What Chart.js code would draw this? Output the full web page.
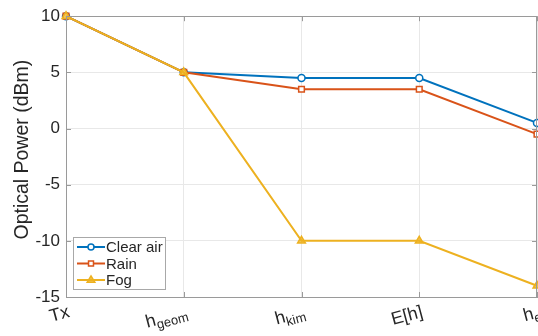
<!DOCTYPE html>
<html>
<head>
<meta charset="utf-8">
<script src="https://cdn.jsdelivr.net/npm/chart.js@4.4.1/dist/chart.umd.min.js"></script>
<style>
  html, body { margin: 0; padding: 0; background: #fff; overflow: hidden; }
  #wrap { width: 538px; height: 336px; overflow: hidden; }
</style>
</head>
<body>
<div id="wrap"><canvas id="myChart" width="600" height="336"></canvas></div>
<script>
// data
const categories = ['Tx', 'h_geom', 'h_kim', 'E[h]', 'h_e'];
const seriesNames = ['Clear air', 'Rain', 'Fog'];
const clearAir = [10, 5, 4.5, 4.5, 0.5];
const rain = [10, 5, 3.5, 3.5, -0.5];
const fog = [10, 5, -10, -10, -14];
const yTicks = [-15, -10, -5, 0, 5, 10];

const FONT = '"Liberation Sans", Arial, Helvetica, sans-serif';
const TEXT = '#262626';
const AXIS = '#9a9a9a';
const GRID = '#e8e8e8';

const colors = ['#0072BD', '#D95319', '#EDB120'];
const styles = ['circle', 'rect', 'triangle'];
const fills = ['#ffffff', '#ffffff', 'rgba(237,177,32,0.75)'];
const radii = [3.5, 4, 4.5];

function drawMarker(ctx, style, x, y, r, stroke, fill) {
    ctx.save();
    ctx.strokeStyle = stroke;
    ctx.fillStyle = fill;
    ctx.lineWidth = 1.5;
    ctx.beginPath();
    if (style === 'circle') {
        ctx.arc(x, y, r, 0, Math.PI * 2);
    } else if (style === 'rect') {
        const s = r * Math.SQRT1_2;
        ctx.rect(x - s, y - s, 2 * s, 2 * s);
    } else {
        ctx.moveTo(x, y - r);
        ctx.lineTo(x + r * 0.95, y + r * 0.55);
        ctx.lineTo(x - r * 0.95, y + r * 0.55);
        ctx.closePath();
    }
    ctx.fill();
    ctx.stroke();
    ctx.restore();
}

const decorations = {
    id: 'decorations',
    afterDraw(chart) {
        const ctx = chart.ctx;
        const area = chart.chartArea;
        const xs = chart.scales.x;
        const ys = chart.scales.y;

        // right box edge + inward tick marks
        ctx.save();
        ctx.strokeStyle = AXIS;
        ctx.lineWidth = 1;
        ctx.beginPath();
        ctx.moveTo(area.right - 0.5, area.top);
        ctx.lineTo(area.right - 0.5, area.bottom);
        categories.forEach((c, i) => {
            const px = Math.round(xs.getPixelForValue(i)) + 0.5;
            ctx.moveTo(px, area.bottom);
            ctx.lineTo(px, area.bottom - 5);
            ctx.moveTo(px, area.top);
            ctx.lineTo(px, area.top + 5);
        });
        yTicks.forEach(v => {
            const py = Math.round(ys.getPixelForValue(v)) + 0.5;
            ctx.moveTo(area.left, py);
            ctx.lineTo(area.left + 5, py);
            ctx.moveTo(area.right, py);
            ctx.lineTo(area.right - 5, py);
        });
        ctx.stroke();
        ctx.restore();

        // rotated x labels with subscripts
        categories.forEach((c, i) => {
            const parts = c.split('_');
            const main = parts[0];
            const sub = parts[1] || '';
            const px = xs.getPixelForValue(i);
            ctx.save();
            ctx.translate(px + 3, 311);
            ctx.rotate(-15 * Math.PI / 180);
            ctx.fillStyle = TEXT;
            ctx.textBaseline = 'alphabetic';
            ctx.textAlign = 'left';
            ctx.font = '18px ' + FONT;
            const w1 = ctx.measureText(main).width;
            ctx.font = '13px ' + FONT;
            const w2 = sub ? ctx.measureText(sub).width : 0;
            const start = -(w1 + w2);
            ctx.font = '18px ' + FONT;
            ctx.fillText(main, start, 6);
            if (sub) {
                ctx.font = '13px ' + FONT;
                ctx.fillText(sub, start + w1, 10);
            }
            ctx.restore();
        });

        // y axis title
        ctx.save();
        ctx.translate(23, (area.top + area.bottom) / 2 - 7);
        ctx.rotate(-Math.PI / 2);
        ctx.fillStyle = TEXT;
        ctx.font = '19.5px ' + FONT;
        ctx.textAlign = 'center';
        ctx.textBaseline = 'middle';
        ctx.fillText('Optical Power (dBm)', 0, 0);
        ctx.restore();

        // legend box in the lower left corner
        const lx = 73, ly = 237, lw = 92, lh = 52;
        ctx.save();
        ctx.fillStyle = '#ffffff';
        ctx.fillRect(lx, ly, lw, lh);
        ctx.strokeStyle = '#a8a8a8';
        ctx.lineWidth = 1;
        ctx.strokeRect(lx + 0.5, ly + 0.5, lw, lh);
        ctx.font = '15px ' + FONT;
        ctx.textBaseline = 'middle';
        seriesNames.forEach((name, i) => {
            const rowY = 247 + i * 16.5;
            ctx.strokeStyle = colors[i];
            ctx.lineWidth = 2;
            ctx.beginPath();
            ctx.moveTo(77, rowY);
            ctx.lineTo(105, rowY);
            ctx.stroke();
            drawMarker(ctx, styles[i], 91, rowY, radii[i] - 0.5, colors[i], fills[i]);
            ctx.fillStyle = TEXT;
            ctx.fillText(name, 106, rowY + 1);
        });
        ctx.restore();
    }
};

const seriesData = [clearAir, rain, fog];
const datasets = seriesNames.map((name, i) => ({
    label: name,
    data: seriesData[i],
    borderColor: colors[i],
    backgroundColor: fills[i],
    borderWidth: 2,
    pointStyle: styles[i],
    pointRadius: radii[i],
    pointBorderWidth: 1.5,
    pointBorderColor: colors[i],
    pointBackgroundColor: fills[i],
    tension: 0,
    fill: false,
    clip: false,
    order: 2 - i   // fog drawn last, on top
}));

new Chart(document.getElementById('myChart').getContext('2d'), {
    type: 'line',
    data: { labels: categories, datasets: datasets },
    options: {
        responsive: false,
        animation: false,
        layout: { padding: { top: 16, right: 63, bottom: 39, left: 0 } },
        plugins: { legend: { display: false }, tooltip: { enabled: false } },
        scales: {
            x: {
                type: 'category',
                offset: false,
                ticks: { display: false },
                grid: { color: GRID, drawTicks: false },
                border: { color: AXIS },
                afterFit(s) { s.height = 0; }
            },
            y: {
                min: -15,
                max: 10,
                ticks: {
                    stepSize: 5,
                    padding: 6,
                    color: TEXT,
                    font: { family: FONT, size: 17 }
                },
                grid: {
                    drawTicks: false,
                    color: ctx => (ctx.tick && ctx.tick.value === 10 ? AXIS : GRID)
                },
                border: { color: AXIS },
                afterFit(s) { s.width = 66; }
            }
        }
    },
    plugins: [decorations]
});
</script>
</body>
</html>
